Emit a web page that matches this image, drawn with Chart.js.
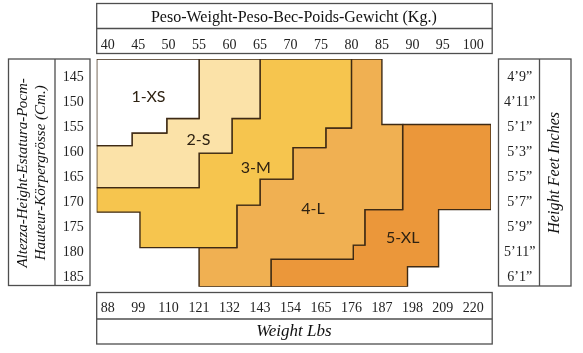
<!DOCTYPE html>
<html>
<head>
  <meta charset="UTF-8">
  <title>Size chart</title>
  <script src="https://cdn.jsdelivr.net/npm/chart.js"></script>
  <style>
    body { margin: 0; background: #fff; }
    #wrap { width: 583px; height: 353px; position: relative; }
  </style>
</head>
<body>
  <div id="wrap"><canvas id="sizeChart"></canvas></div>

  <script>
    // tick values and their labels
    const kgTicks = [40, 45, 50, 55, 60, 65, 70, 75, 80, 85, 90, 95, 100];
    const lbsLabels = ['88', '99', '110', '121', '132', '143', '154', '165', '176', '187', '198', '209', '220'];
    const cmTicks = [145, 150, 155, 160, 165, 170, 175, 180, 185];
    const feetLabels = ['4’9”', '4’11”', '5’1”', '5’3”', '5’5”', '5’7”', '5’9”', '5’11”', '6’1”'];

    const kgMin = 38.2, kgMax = 102.9;
    const cmMin = 141.3, cmMax = 186.8;

    const sizeNames = ['1-XS', '2-S', '3-M', '4-L', '5-XL'];

    // corners of each size zone: weight (kg) / height (cm)
    const xsKg = [38.2, 55, 55, 49.7, 49.7, 44, 44, 38.2];
    const xsCm = [141.3, 141.3, 153.2, 153.2, 156.1, 156.1, 158.6, 158.6];

    const sKg = [55, 65, 65, 60.4, 60.4, 55, 55, 38.2, 38.2, 44, 44, 49.7, 49.7, 55];
    const sCm = [141.3, 141.3, 153.2, 153.2, 160.1, 160.1, 167, 167, 158.6, 158.6, 156.1, 156.1, 153.2, 153.2];

    const mKg = [65, 80, 80, 75.8, 75.8, 70.4, 70.4, 65, 65, 61.2, 61.2, 45.3, 45.3, 38.2, 38.2, 55, 55, 60.4, 60.4, 65];
    const mCm = [141.3, 141.3, 155.1, 155.1, 159, 159, 165.3, 165.3, 170.5, 170.5, 179, 179, 171.9, 171.9, 167, 167, 160.1, 160.1, 153.2, 153.2];

    const lKg = [80, 85, 85, 88.4, 88.4, 82.2, 82.2, 80.3, 80.3, 66.8, 66.8, 55, 55, 61.2, 61.2, 65, 65, 70.4, 70.4, 75.8, 75.8, 80];
    const lCm = [141.3, 141.3, 154.4, 154.4, 171.4, 171.4, 178.5, 178.5, 181.3, 181.3, 186.8, 186.8, 179, 179, 170.5, 170.5, 165.3, 165.3, 159, 159, 155.1, 155.1];

    const xlKg = [88.4, 102.9, 102.9, 94.3, 94.3, 89.2, 89.2, 66.8, 66.8, 80.3, 80.3, 82.2, 82.2, 88.4];
    const xlCm = [154.4, 154.4, 171.4, 171.4, 182.8, 182.8, 186.8, 186.8, 181.3, 181.3, 178.5, 178.5, 171.4, 171.4];

    // where the size names sit
    const labelKg = [46.7, 54.9, 64.3, 73.7, 88.4];
    const labelCm = [148.8, 157.5, 163.1, 171.3, 177.1];

    const zoneFills = ['#ffffff', '#fbe2a8', '#f6c54e', '#f0b052', '#eb973a'];
    const zones = [[xsKg, xsCm], [sKg, sCm], [mKg, mCm], [lKg, lCm], [xlKg, xlCm]];

    const serif = "'Liberation Serif', serif";
    const tickFont = { family: serif, size: 14 };
    const boxColor = '#4e4e4e';

    function toPoints(kg, cm) {
      const pts = kg.map((k, i) => ({ x: k, y: cm[i] }));
      pts.push({ x: kg[0], y: cm[0] }); // close the outline
      return pts;
    }

    function line(ctx, x1, y1, x2, y2) {
      ctx.beginPath();
      ctx.moveTo(x1, y1);
      ctx.lineTo(x2, y2);
      ctx.stroke();
    }

    // frames around the axes, like the printed table
    const framePlugin = {
      id: 'frames',
      afterDraw(chart) {
        const { ctx, chartArea: a } = chart;
        ctx.save();
        ctx.strokeStyle = boxColor;
        ctx.lineWidth = 1.3;
        // top (kg)
        ctx.strokeRect(a.left, 3.5, 395.5, 50);
        line(ctx, a.left, 28.5, a.left + 395.5, 28.5);
        // left (cm)
        ctx.strokeRect(8.5, a.top, 81.5, 226.5);
        line(ctx, 55, a.top, 55, a.top + 226.5);
        // right (feet)
        ctx.strokeRect(498.5, a.top, 72.5, 227);
        line(ctx, 539.5, a.top, 539.5, a.top + 227);
        // bottom (lbs)
        ctx.strokeRect(a.left, 292.5, 395.5, 51.5);
        line(ctx, a.left, 319, a.left + 395.5, 319);

        // right-hand title reads upwards
        ctx.fillStyle = '#111';
        ctx.font = 'italic 16px ' + serif;
        ctx.textAlign = 'center';
        ctx.textBaseline = 'middle';
        ctx.translate(555, (a.top + a.bottom) / 2);
        ctx.rotate(-Math.PI / 2);
        ctx.fillText('Height Feet Inches', 0, 0);
        ctx.restore();
      }
    };

    const namePlugin = {
      id: 'sizeNames',
      afterDatasetsDraw(chart) {
        const { ctx, scales } = chart;
        ctx.save();
        ctx.fillStyle = '#2e2212';
        ctx.font = '16px Lato, sans-serif';
        ctx.textAlign = 'center';
        ctx.textBaseline = 'middle';
        sizeNames.forEach((n, i) => {
          ctx.fillText(n, scales.x.getPixelForValue(labelKg[i]), scales.y.getPixelForValue(labelCm[i]));
        });
        ctx.restore();
      }
    };

    const noGrid = { display: false, drawTicks: false };

    new Chart(document.getElementById('sizeChart'), {
      type: 'line',
      data: {
        datasets: zones.map((z, i) => ({
          label: sizeNames[i],
          data: toPoints(z[0], z[1]),
          fill: 'shape',
          backgroundColor: zoneFills[i],
          borderColor: '#3e2a14',
          borderWidth: 1.4,
          borderJoinStyle: 'miter',
          pointRadius: 0,
          tension: 0,
          xAxisID: 'x',
          yAxisID: 'y'
        }))
      },
      options: {
        responsive: true,
        maintainAspectRatio: false,
        animation: false,
        events: [],
        layout: { padding: { left: 8, right: 12, top: 3, bottom: 9 } },
        plugins: { legend: { display: false }, tooltip: { enabled: false } },
        scales: {
          x: {
            type: 'linear', position: 'bottom', min: kgMin, max: kgMax,
            grid: noGrid, border: { display: false },
            afterBuildTicks: s => { s.ticks = kgTicks.map(v => ({ value: v })); },
            afterFit: s => { s.height = 57.3; },
            ticks: { callback: (v, i) => lbsLabels[i], font: tickFont, color: '#222', padding: 13.5, maxRotation: 0, autoSkip: false },
            title: { display: true, text: 'Weight Lbs', color: '#111', font: { family: serif, size: 17, style: 'italic' }, padding: { top: 0, bottom: 2 } }
          },
          xTop: {
            type: 'linear', position: 'top', min: kgMin, max: kgMax,
            grid: noGrid, border: { display: false },
            afterBuildTicks: s => { s.ticks = kgTicks.map(v => ({ value: v })); },
            afterFit: s => { s.height = 56; },
            ticks: { callback: (v, i) => String(kgTicks[i]), font: tickFont, color: '#222', padding: 5, maxRotation: 0, autoSkip: false },
            title: { display: true, text: 'Peso-Weight-Peso-Bec-Poids-Gewicht (Kg.)', color: '#111', font: { family: serif, size: 16 }, padding: { top: 5, bottom: 0 } }
          },
          y: {
            type: 'linear', position: 'left', reverse: true, min: cmMin, max: cmMax,
            grid: noGrid, border: { display: false },
            afterBuildTicks: s => { s.ticks = cmTicks.map(v => ({ value: v })); },
            afterFit: s => { s.width = 88.7; },
            ticks: { callback: (v, i) => String(cmTicks[i]), font: tickFont, color: '#222', padding: 13, crossAlign: 'center', autoSkip: false },
            title: { display: true, text: ['Altezza-Height-Estatura-Рост-', 'Hauteur-Körpergrösse (Cm.)'], color: '#111', font: { family: serif, size: 15, style: 'italic' }, padding: { top: 6, bottom: 0 } }
          },
          yRight: {
            type: 'linear', position: 'right', reverse: true, min: cmMin, max: cmMax,
            grid: noGrid, border: { display: false },
            afterBuildTicks: s => { s.ticks = cmTicks.map(v => ({ value: v })); },
            afterFit: s => { s.width = 80; },
            ticks: { callback: (v, i) => feetLabels[i], font: tickFont, color: '#222', padding: 13, crossAlign: 'center', autoSkip: false }
          }
        }
      },
      plugins: [framePlugin, namePlugin]
    });
  </script>
</body>
</html>
